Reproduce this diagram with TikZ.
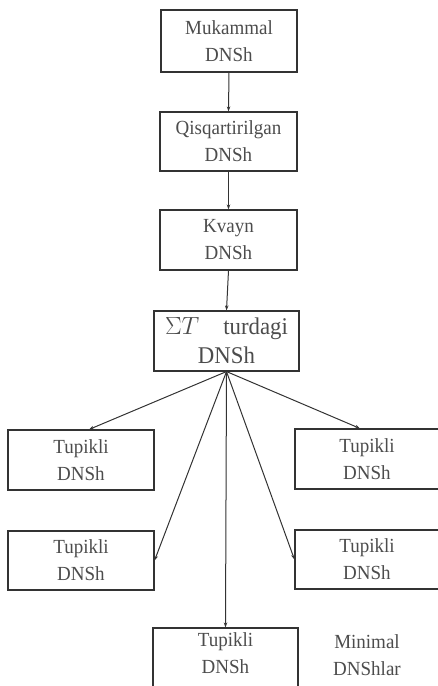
\documentclass[tikz,border=0pt]{standalone}
\usepackage{fontspec}
\setmainfont{Liberation Serif}[FakeStretch=0.95]
\usetikzlibrary{arrows.meta,calc}

\tikzset{
  box/.style={draw=black!80, line width=1.1pt, rectangle, inner sep=0pt,
    align=center, text=black!70, font=\fontsize{20}{27}\selectfont},
  arr/.style={draw=black!80, line width=1pt, -{Stealth[length=5pt,width=3.5pt]}}
}

\begin{document}
\begin{tikzpicture}[x=1pt, y=-1pt]
        % ==== FRAME ====
        \useasboundingbox (0,0) rectangle (438,686);
        \clip (0,0) rectangle (438,686);

        % ==== CHAIN OF DNSh ====
        \node[box, minimum width=136, minimum height=62] (muk) at (229, 41) {Mukammal\\DNSh};
        \node[box, minimum width=137, minimum height=59] (qis) at (228.5, 141.5) {Qisqartirilgan\\DNSh};
        \node[box, minimum width=137, minimum height=60] (kva) at (228.5, 240) {Kvayn\\DNSh};
        \node[box, minimum width=145, minimum height=60, font=\fontsize{24}{29}\selectfont] (sig) at (226.5, 341)
            {$\Sigma T$\hspace{24pt}turdagi\\DNSh};

        % ==== TUPIKLI DNSh ====
        \node[box, minimum width=146, minimum height=60] (tupA) at (81, 460) {Tupikli\\DNSh};
        \node[box, minimum width=144, minimum height=60] (tupB) at (367, 459) {Tupikli\\DNSh};
        \node[box, minimum width=146, minimum height=59] (tupC) at (81, 560.5) {Tupikli\\DNSh};
        \node[box, minimum width=144, minimum height=59] (tupD) at (367, 559.5) {Tupikli\\DNSh};
        \node[box, minimum width=145, minimum height=77] (tupE) at (225.5, 666.5) {Tupikli\\DNSh\\~};

        % ==== LABEL ====
        \node[align=center, text=black!70, font=\fontsize{20}{27}\selectfont] (mini) at (367, 655) {Minimal\\DNShlar};

        % ==== ARROWS DOWN ====
        \draw[arr] (muk.south) -- (qis.north);
        \draw[arr] (qis.south) -- (kva.north);
        \draw[arr] (kva.south) -- (sig.north);

        % ==== FAN OF ARROWS ====
        \draw[arr] (sig.south) -- ($(tupA.north)+(8,0)$);
        \draw[arr] (sig.south) -- ($(tupB.north)+(-7,0)$);
        \draw[arr] (sig.south) -- (tupC.east);
        \draw[arr] (sig.south) -- (tupD.west);
        \draw[arr] (sig.south) -- (tupE.north);
\end{tikzpicture}
\end{document}
